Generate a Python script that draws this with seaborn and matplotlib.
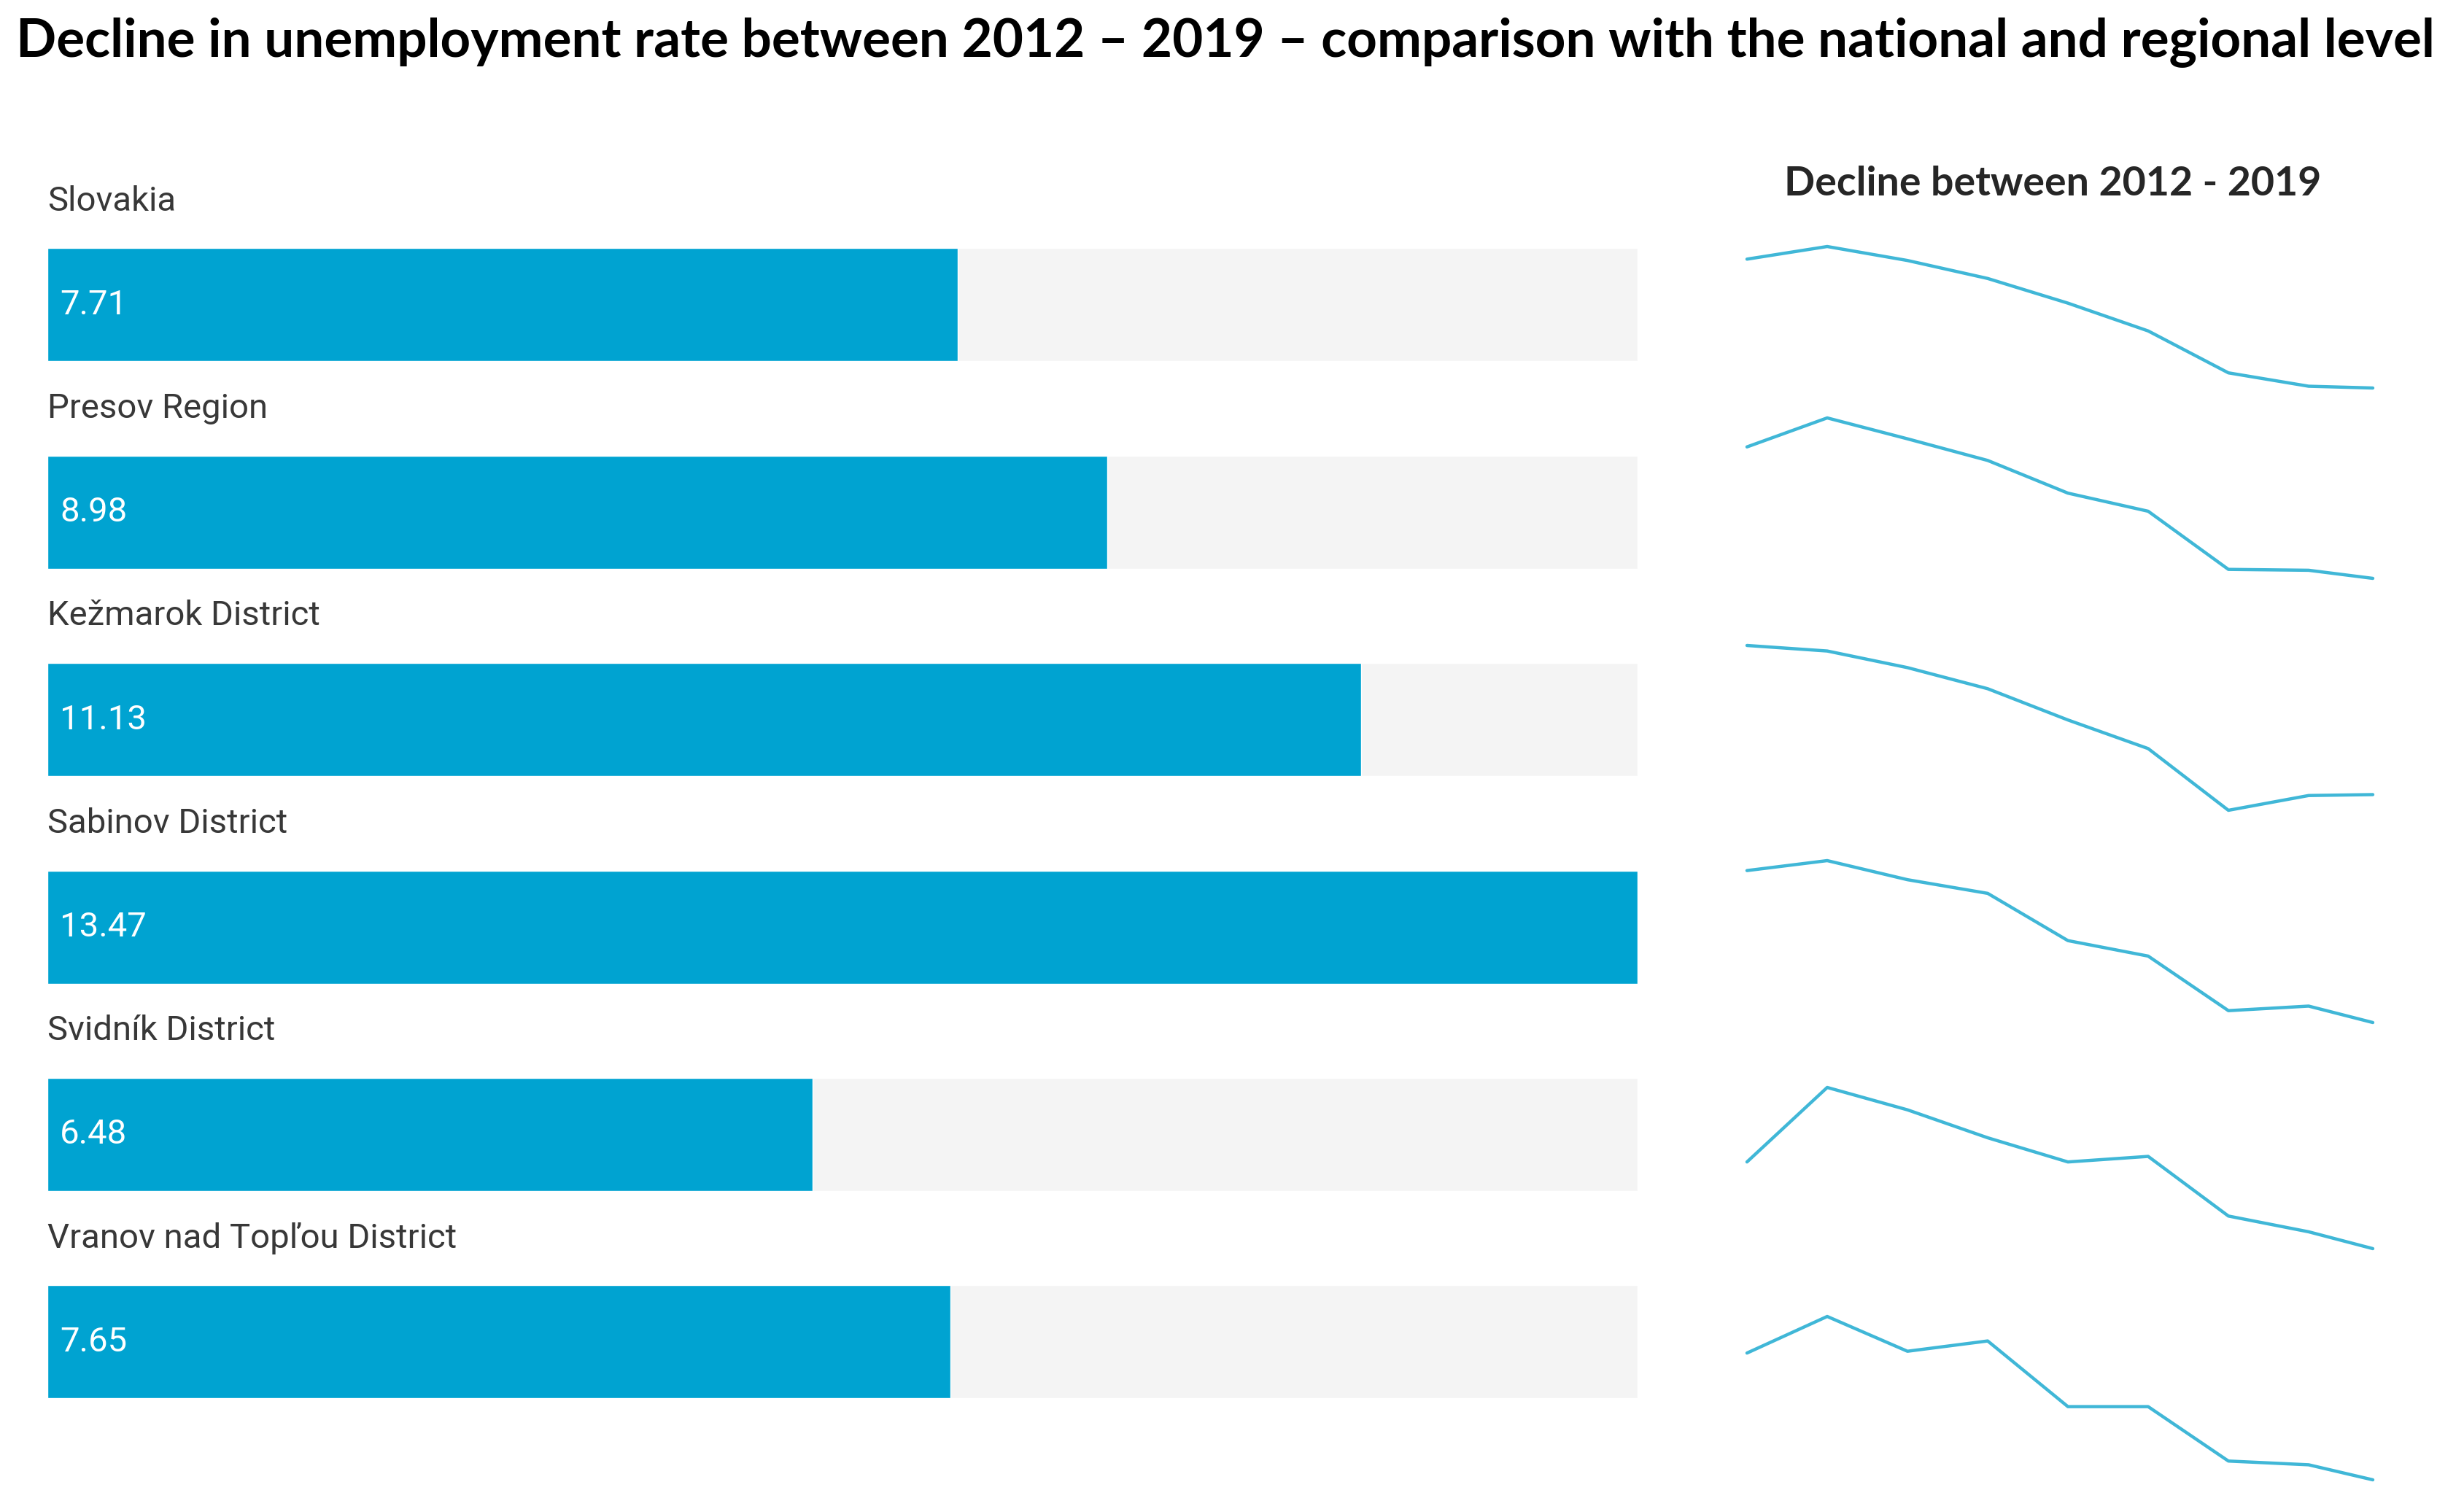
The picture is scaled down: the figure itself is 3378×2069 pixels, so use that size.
import pandas as pd
import seaborn as sns
import matplotlib.pyplot as plt

# data
areas = ["Slovakia", "Presov Region", "Kežmarok District", "Sabinov District",
         "Svidník District", "Vranov nad Topľou District"]
declines = [7.71, 8.98, 11.13, 13.47, 6.48, 7.65]

# last point sits a bit closer than the others in the source
years = [2011, 2012, 2013, 2014, 2015, 2016, 2017, 2018, 2018.8]
slovakia = [13.59, 14.44, 13.50, 12.29, 10.63, 8.76, 5.94, 5.04, 4.92]
presov = [17.23, 19.20, 17.78, 16.31, 14.09, 12.86, 8.91, 8.85, 8.30]
kezmarok = [25.50, 25.08, 23.82, 22.22, 19.85, 17.68, 13.00, 14.12, 14.19]
sabinov = [24.17, 25.00, 23.41, 22.27, 18.33, 17.04, 12.49, 12.87, 11.50]
svidnik = [16.84, 21.00, 19.75, 18.19, 16.84, 17.15, 13.82, 12.94, 12.00]
vranov = [18.26, 20.50, 18.37, 19.00, 14.98, 14.98, 11.65, 11.42, 10.50]
trends = [slovakia, presov, kezmarok, sabinov, svidnik, vranov]

BAR = "#00a3d1"
LINE = "#40b7d7"
TRACK = "#f4f4f4"

sns.set_theme(style="white")
plt.rcParams['font.family'] = ['Roboto', 'DejaVu Sans']

W, H = 3378, 2069
fig = plt.figure(figsize=(W / 100, H / 100), dpi=100)

fig.text(22 / W, 1 - 58 / H,
         "Decline in unemployment rate between 2012 – 2019 – comparison with the national and regional level",
         fontsize=52.4, fontweight='bold', family=['Lato', 'DejaVu Sans'],
         ha='left', va='center', color='black')

# bar panel
ax = fig.add_axes([65 / W, 0.042, 2180 / W, 0.866])
df = pd.DataFrame({'area': areas, 'decline': declines})
track = pd.DataFrame({'area': areas, 'decline': [max(declines)] * len(areas)})
sns.barplot(data=track, x='decline', y='area', color=TRACK, width=0.545,
            saturation=1, ax=ax, orient='h')
sns.barplot(data=df, x='decline', y='area', color=BAR, width=0.545,
            saturation=1, ax=ax, orient='h')
ax.set_xlim(0, max(declines))
ax.set_ylim(5.5, -0.8)
ax.axis('off')

for i, (name, v) in enumerate(zip(areas, declines)):
    ax.text(0.105, i, f"{v:.2f}", color='white', fontsize=34, va='center', ha='left')
    ax.text(0, i - 0.5, name, color='#383838', fontsize=34, va='center', ha='left')

# sparklines
fig.text(2814 / W, 1 - 252 / H, "Decline between 2012 - 2019", fontsize=40,
         fontweight='bold', family=['Lato', 'DejaVu Sans'], ha='center', va='center')

tops = [338, 573, 885, 1180, 1491, 1805]
bottoms = [532, 793, 1111, 1402, 1712, 2029]
for vals, t, b in zip(trends, tops, bottoms):
    sax = fig.add_axes([2395 / W, 1 - b / H, (3253 - 2395) / W, (b - t) / H])
    sns.lineplot(x=years, y=vals, ax=sax, color=LINE, linewidth=3.2)
    for ln in sax.lines:
        ln.set_clip_on(False)
    sax.set_xlim(years[0], years[-1])
    sax.set_ylim(min(vals), max(vals))
    sax.axis('off')

fig.savefig("out.png", dpi=100, facecolor='white')
